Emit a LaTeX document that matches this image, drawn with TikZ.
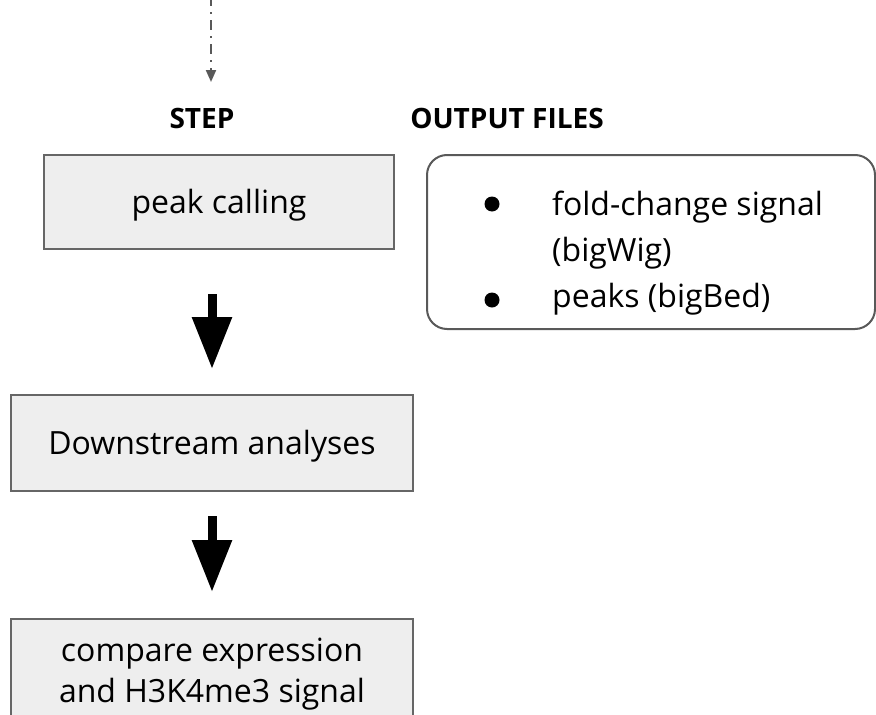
\documentclass[tikz,border=0pt]{standalone}
\usepackage{fontspec}
\setmainfont{Open Sans}
\usetikzlibrary{arrows.meta}

\definecolor{boxfill}{HTML}{EEEEEE}
\definecolor{boxline}{HTML}{666666}
\definecolor{flowgray}{HTML}{595959}

\tikzset{
  stepbox/.style={draw=boxline, line width=2pt, fill=boxfill, inner sep=0pt,
    font=\fontsize{32}{41}\selectfont, align=center, text depth=2pt},
  outbox/.style={draw=flowgray, line width=2pt, rounded corners=20pt, inner sep=0pt},
  header/.style={font=\fontsize{28}{34}\selectfont\bfseries, anchor=base},
  outtext/.style={font=\fontsize{32}{41}\selectfont, anchor=base west, inner sep=0pt},
  bulletdot/.style={circle, fill=black, inner sep=0pt, minimum size=15pt},
  bigarrow/.style={line width=9pt, -{Triangle[width=38pt, length=52pt]}},
  inflow/.style={draw=flowgray, line width=2pt, dash pattern=on 10pt off 6pt on 2pt off 6pt,
    -{Triangle[width=10pt, length=12pt]}}
}

\begin{document}
\begin{tikzpicture}[x=1pt, y=-1pt]
  \useasboundingbox (0,0) rectangle (876,715);

  % incoming flow from the previous stage
  \coordinate (inTop) at (211,-4);
  \coordinate (inEnd) at (211,82);
  \draw[inflow] (inTop) -- (inEnd);

  % column headers
  \node[header] (stepHead) at (202,128) {STEP};
  \node[header] (outHead) at (507,128) {OUTPUT FILES};

  % pipeline steps
  \node[stepbox, minimum width=350pt, minimum height=94pt] (peak) at (219,202) {peak calling};
  \node[stepbox, minimum width=402pt, minimum height=96pt] (down) at (212,443) {Downstream analyses};
  \node[stepbox, minimum width=402pt, minimum height=104pt] (cmp) at (212,671)
    {compare expression\\and H3K4me3 signal};

  % output files of the peak-calling step
  \node[outbox, minimum width=448pt, minimum height=174pt] (files) at (651,242) {};
  \node[bulletdot] (b1) at (492,204) {};
  \node[bulletdot] (b2) at (492,300) {};
  \node[outtext] (f1) at (552,215) {fold-change signal};
  \node[outtext] (f2) at (552,261) {(bigWig)};
  \node[outtext] (f3) at (552,307) {peaks (bigBed)};

  % step arrows
  \draw[bigarrow] ([yshift=-44pt]down.north |- peak.south) -- ([yshift=25pt]down.north);
  \draw[bigarrow] ([yshift=-24pt]down.south) -- ([yshift=26pt]cmp.north);
\end{tikzpicture}
\end{document}
